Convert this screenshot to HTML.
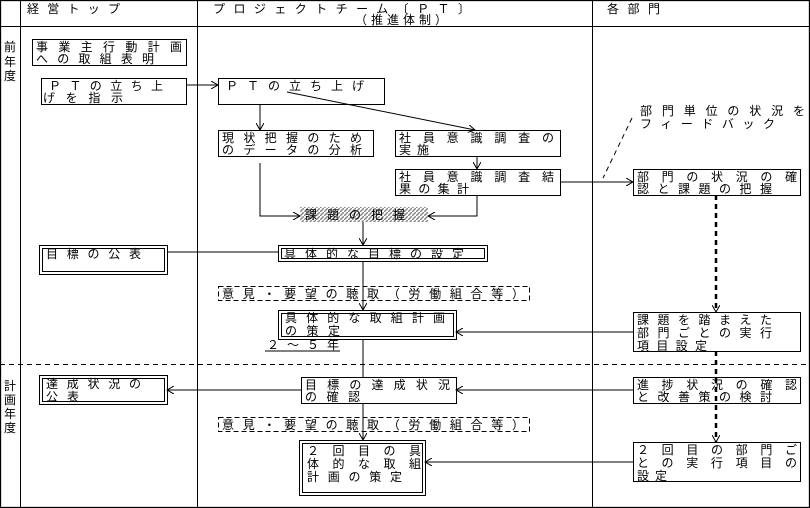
<!DOCTYPE html>
<html><head><meta charset="utf-8"><style>
html,body{margin:0;padding:0;background:#fff}
svg{display:block}
text{font-family:"Liberation Sans","Noto Sans CJK JP",sans-serif;font-size:12px;fill:#000}
</style></head><body>
<svg width="810" height="508" viewBox="0 0 810 508" xmlns="http://www.w3.org/2000/svg">
<defs>
<marker id="a" markerWidth="8" markerHeight="8" refX="7" refY="4" orient="auto" markerUnits="userSpaceOnUse"><path d="M0,0 L7,4 L0,8" fill="none" stroke="#000" stroke-width="1"/></marker>
<pattern id="h" width="4" height="4" patternUnits="userSpaceOnUse"><path d="M0,4 L4,0" stroke="#888" stroke-width="1.5"/></pattern>
</defs>
<g fill="none" stroke="#000" stroke-width="1">
<rect x="0.5" y="0.5" width="809" height="507" stroke-width="1.3"/>
<line x1="20.5" y1="0" x2="20.5" y2="508"/><line x1="197.5" y1="0" x2="197.5" y2="508"/><line x1="592.5" y1="0" x2="592.5" y2="508"/>
<line x1="0" y1="26.5" x2="810" y2="26.5"/>
<line x1="0" y1="364.5" x2="810" y2="364.5" stroke-dasharray="5,4"/>
<rect x="32.5" y="39.5" width="154" height="26"/>
<rect x="41.5" y="78.5" width="145" height="26"/>
<rect x="218.5" y="78.5" width="166" height="26"/>
<rect x="218.5" y="130.5" width="155" height="26"/>
<rect x="395.5" y="130.5" width="165" height="26"/>
<rect x="395.5" y="169.5" width="165" height="26"/>
<rect x="633.5" y="169.5" width="167" height="26"/>
<rect x="633.5" y="312.5" width="167" height="39"/>
<rect x="633.5" y="377.5" width="167" height="26"/>
<rect x="633.5" y="442.5" width="167" height="39"/>
<rect x="301.5" y="377.5" width="155" height="26"/>
<rect x="39.5" y="245.5" width="128" height="29"/><rect x="42.5" y="248.5" width="122" height="23"/>
<rect x="278.5" y="245.5" width="209" height="16"/><rect x="281.5" y="248.5" width="203" height="10"/>
<rect x="278.5" y="310.5" width="178" height="29"/><rect x="281.5" y="313.5" width="172" height="23"/>
<rect x="39.5" y="375.5" width="128" height="29"/><rect x="42.5" y="378.5" width="122" height="23"/>
<rect x="299.5" y="440.5" width="126" height="55"/><rect x="302.5" y="443.5" width="120" height="49"/>
<rect x="218.5" y="286.5" width="311" height="14" stroke-dasharray="5,3"/>
<rect x="218.5" y="417.5" width="311" height="14" stroke-dasharray="5,3"/>
<line x1="186" y1="85" x2="218" y2="85" marker-end="url(#a)"/>
<line x1="287" y1="92" x2="475" y2="130" marker-end="url(#a)"/>
<line x1="260" y1="104" x2="260" y2="130" marker-end="url(#a)"/>
<line x1="477" y1="156" x2="477" y2="169" marker-end="url(#a)"/>
<line x1="560" y1="182" x2="633" y2="182" marker-end="url(#a)"/>
<polyline points="260,163 260,216 300,216" marker-end="url(#a)"/>
<polyline points="477,195 477,216 428,216" marker-end="url(#a)"/>
<line x1="363" y1="222" x2="363" y2="245" marker-end="url(#a)"/>
<line x1="167" y1="252" x2="278" y2="252"/>
<line x1="363" y1="261" x2="363" y2="310" marker-end="url(#a)"/>
<line x1="633" y1="332" x2="456" y2="332" marker-end="url(#a)"/>
<line x1="363" y1="339" x2="363" y2="377"/>
<line x1="633" y1="390" x2="456" y2="390" marker-end="url(#a)"/>
<line x1="301" y1="390" x2="167" y2="390" marker-end="url(#a)"/>
<line x1="363" y1="403" x2="363" y2="440" marker-end="url(#a)"/>
<line x1="633" y1="462" x2="425" y2="462" marker-end="url(#a)"/>
<line x1="716" y1="195" x2="716" y2="312" stroke-width="2.5" stroke-dasharray="5,4" marker-end="url(#a)"/>
<line x1="716" y1="351" x2="716" y2="442" stroke-width="2.5" stroke-dasharray="5,4" marker-end="url(#a)"/>
<line x1="632" y1="118" x2="603" y2="178" stroke-dasharray="5,4"/>
<line x1="265" y1="351" x2="340" y2="351"/>
</g>
<rect x="300" y="207" width="128" height="15" fill="url(#h)"/>
<text x="27" y="13" textLength="93" lengthAdjust="spacing">経営トップ</text>
<text x="213" y="13" textLength="257" lengthAdjust="spacing">プロジェクトチーム〔ＰＴ〕</text>
<text x="355" y="24" textLength="98" lengthAdjust="spacing" style="font-size:12px;letter-spacing:6px">（推進体制）</text>
<text x="607" y="13" textLength="53" lengthAdjust="spacing">各部門</text>
<text x="4" y="51">前</text><text x="4" y="66">年</text><text x="4" y="80">度</text>
<text x="4" y="390">計</text><text x="4" y="404">画</text><text x="4" y="418">年</text><text x="4" y="432">度</text>
<text x="36" y="51" textLength="146" lengthAdjust="spacing">事業主行動計画</text>
<text x="36" y="63" textLength="118" lengthAdjust="spacing">への取組表明</text>
<text x="49" y="90" textLength="114" lengthAdjust="spacing">ＰＴの立ち上</text>
<text x="43" y="102" textLength="80" lengthAdjust="spacing">げを指示</text>
<text x="226" y="90" textLength="138" lengthAdjust="spacing">ＰＴの立ち上げ</text>
<text x="222" y="142" textLength="140" lengthAdjust="spacing">現状把握のため</text>
<text x="222" y="154" textLength="140" lengthAdjust="spacing">のデータの分析</text>
<text x="399" y="142" textLength="155" lengthAdjust="spacing">社員意識調査の</text>
<text x="399" y="154" textLength="30" lengthAdjust="spacing">実施</text>
<text x="399" y="181" textLength="155" lengthAdjust="spacing">社員意識調査結</text>
<text x="399" y="193" textLength="70" lengthAdjust="spacing">果の集計</text>
<text x="640" y="115" textLength="165" lengthAdjust="spacing">部門単位の状況を</text>
<text x="640" y="128" textLength="135" lengthAdjust="spacing">フィードバック</text>
<text x="637" y="181" textLength="160" lengthAdjust="spacing">部門の状況の確</text>
<text x="637" y="193" textLength="135" lengthAdjust="spacing">認と課題の把握</text>
<text x="305" y="219" textLength="100" lengthAdjust="spacing">課題の把握</text>
<text x="46" y="258" textLength="95" lengthAdjust="spacing">目標の公表</text>
<text x="284" y="258" textLength="180" lengthAdjust="spacing">具体的な目標の設定</text>
<text x="222" y="298" textLength="302" lengthAdjust="spacing">意見・要望の聴取（労働組合等）</text>
<text x="285" y="322" textLength="160" lengthAdjust="spacing">具体的な取組計画</text>
<text x="285" y="335" textLength="55" lengthAdjust="spacing">の策定</text>
<text x="267" y="349" textLength="72" lengthAdjust="spacing">２～５年</text>
<text x="637" y="324" textLength="135" lengthAdjust="spacing">課題を踏まえた</text>
<text x="637" y="337" textLength="135" lengthAdjust="spacing">部門ごとの実行</text>
<text x="637" y="350" textLength="70" lengthAdjust="spacing">項目設定</text>
<text x="46" y="388" textLength="95" lengthAdjust="spacing">達成状況の</text>
<text x="46" y="401" textLength="33" lengthAdjust="spacing">公表</text>
<text x="305" y="389" textLength="145" lengthAdjust="spacing">目標の達成状況</text>
<text x="305" y="401" textLength="55" lengthAdjust="spacing">の確認</text>
<text x="637" y="389" textLength="160" lengthAdjust="spacing">進捗状況の確認</text>
<text x="637" y="401" textLength="135" lengthAdjust="spacing">と改善策の検討</text>
<text x="222" y="429" textLength="302" lengthAdjust="spacing">意見・要望の聴取（労働組合等）</text>
<text x="307" y="455" textLength="114" lengthAdjust="spacing">２回目の具</text>
<text x="307" y="468" textLength="114" lengthAdjust="spacing">体的な取組</text>
<text x="307" y="481" textLength="95" lengthAdjust="spacing">計画の策定</text>
<text x="637" y="454" textLength="160" lengthAdjust="spacing">２回目の部門ご</text>
<text x="637" y="467" textLength="160" lengthAdjust="spacing">との実行項目の</text>
<text x="637" y="480" textLength="30" lengthAdjust="spacing">設定</text>
</svg>
</body></html>
